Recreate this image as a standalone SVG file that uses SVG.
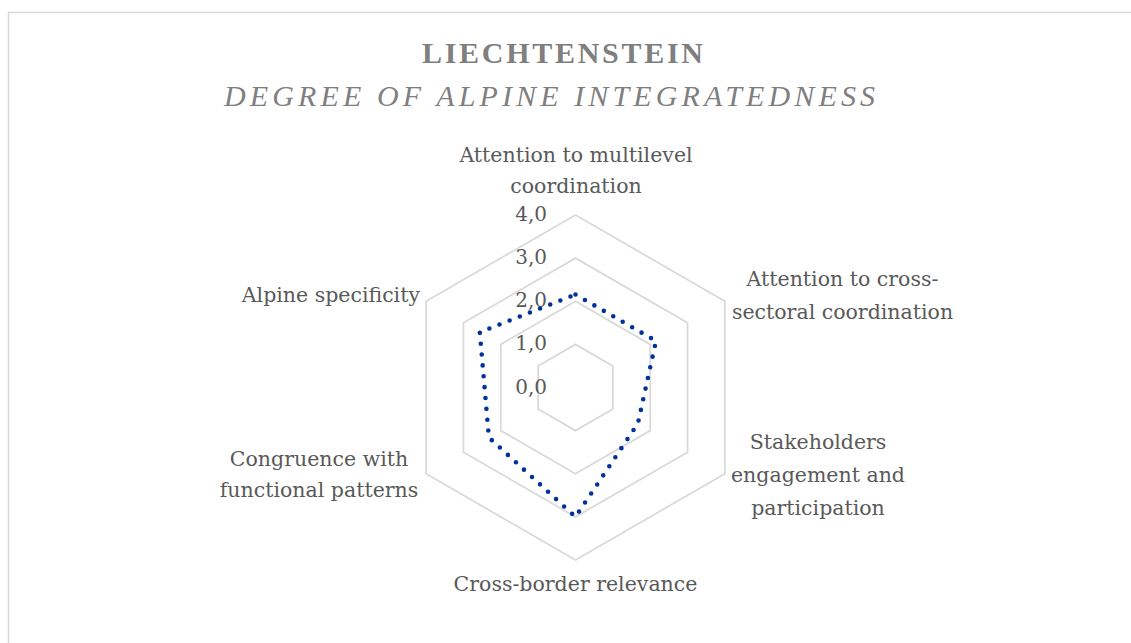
<svg xmlns="http://www.w3.org/2000/svg" width="1131" height="643" viewBox="0 0 1131 643">
  <style>
    .frame { fill: none; stroke: #d9d9d9; stroke-width: 1.5; }
    .grid { fill: none; stroke: #d9d9d9; stroke-width: 1.75; stroke-linejoin: miter; }
    .series { fill: none; stroke: #00339a; stroke-width: 4.6; stroke-linecap: round; stroke-linejoin: round; stroke-dasharray: 0 10.9; }
    .title { font-family: "Liberation Serif", "DejaVu Serif", serif; font-size: 30px; fill: #7f7f7f; }
    .label { font-family: "DejaVu Serif", "Liberation Serif", serif; font-size: 20.5px; fill: #595959; }
    .tick { font-family: "DejaVu Serif", "Liberation Serif", serif; font-size: 20px; fill: #595959; text-anchor: end; }
  </style>
  <rect width="1131" height="643" fill="#ffffff"/>
  <!-- chart area border -->
  <path class="frame" d="M8.5,643 V12.5 H1131"/>

  <!-- titles -->
  <g id="title">
    <text class="title" x="422" y="62.5" font-weight="bold" textLength="281" lengthAdjust="spacing">LIECHTENSTEIN</text>
    <text class="title" x="224" y="106" font-style="italic" textLength="651" lengthAdjust="spacing">DEGREE OF ALPINE INTEGRATEDNESS</text>
  </g>

  <!-- radar grid rings: 1.0 to 4.0 -->
  <g id="grid">
    <polygon class="grid" points="575.5,344.38 612.85,365.94 612.85,409.06 575.5,430.63 538.15,409.06 538.15,365.94"/>
    <polygon class="grid" points="575.5,301.25 650.19,344.38 650.19,430.63 575.5,473.75 500.81,430.63 500.81,344.38"/>
    <polygon class="grid" points="575.5,258.13 687.54,322.81 687.54,452.19 575.5,516.88 463.46,452.19 463.46,322.81"/>
    <polygon class="grid" points="575.5,215 724.89,301.25 724.89,473.75 575.5,560 426.11,473.75 426.11,301.25"/>
  </g>

  <!-- value axis ticks -->
  <g id="ticks">
    <text class="tick" x="547" y="393.5">0,0</text>
    <text class="tick" x="547" y="350.4">1,0</text>
    <text class="tick" x="547" y="307.3">2,0</text>
    <text class="tick" x="547" y="264.2">3,0</text>
    <text class="tick" x="547" y="221.1">4,0</text>
  </g>

  <!-- data series -->
  <g id="connectors">
    <path class="series" d="M575.5,294.5 L656,341 L637.9,423.5 L575.5,516.9 L488.9,437.5 L479.8,332.2 Z"/>
  </g>

  <!-- category labels -->
  <g id="axis-multilevel">
    <text class="label" x="576" y="161.5" text-anchor="middle">Attention to multilevel</text>
    <text class="label" x="576" y="193" text-anchor="middle">coordination</text>
  </g>
  <g id="axis-cross-sectoral">
    <text class="label" x="842.5" y="286" text-anchor="middle">Attention to cross-</text>
    <text class="label" x="842.5" y="318.5" text-anchor="middle">sectoral coordination</text>
  </g>
  <g id="axis-stakeholders">
    <text class="label" x="818" y="448.5" text-anchor="middle">Stakeholders</text>
    <text class="label" x="818" y="481.5" text-anchor="middle">engagement and</text>
    <text class="label" x="818" y="514.5" text-anchor="middle">participation</text>
  </g>
  <g id="axis-cross-border">
    <text class="label" x="575.5" y="590.5" text-anchor="middle">Cross-border relevance</text>
  </g>
  <g id="axis-congruence">
    <text class="label" x="319" y="465.5" text-anchor="middle">Congruence with</text>
    <text class="label" x="319" y="496.5" text-anchor="middle">functional patterns</text>
  </g>
  <g id="axis-alpine">
    <text class="label" x="420" y="302" text-anchor="end">Alpine specificity</text>
  </g>
</svg>
